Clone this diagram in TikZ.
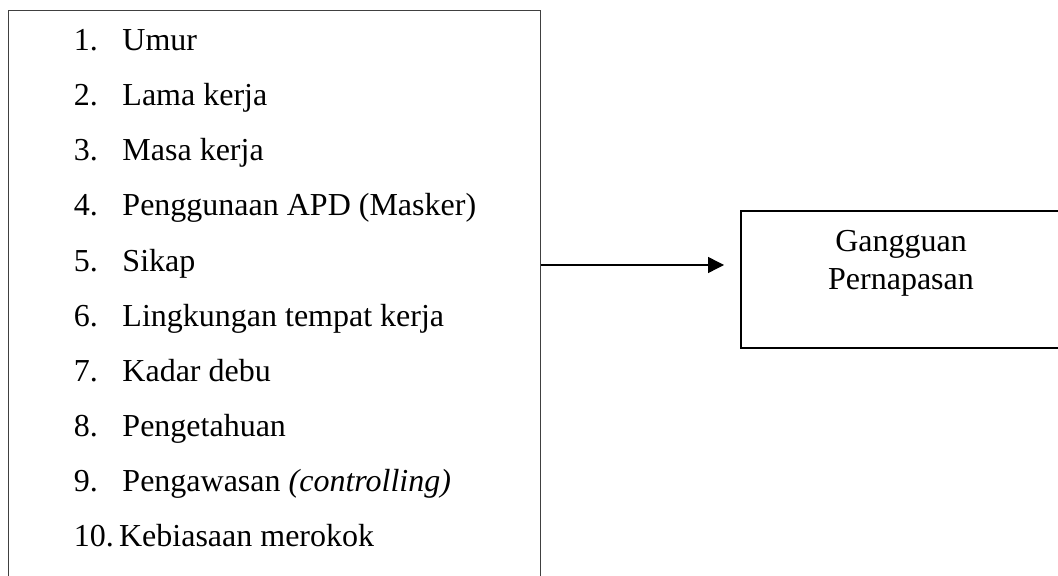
\documentclass[tikz,border=0pt]{standalone}
\usepackage{fontspec}
\setmainfont{Liberation Serif}
\usetikzlibrary{arrows.meta,positioning}

\begin{document}
\begin{tikzpicture}[x=0.5pt,y=-0.5pt,>={Triangle[length=8pt,width=8pt]},
                  box/.style={draw,rectangle,inner sep=0pt},
                  item/.style={anchor=base west,inner sep=0pt,font=\fontsize{16}{19}\selectfont}]

    \useasboundingbox (0,0) rectangle (1058,576);

    \node[box,line width=0.6pt,draw=black!75,minimum width=266pt,minimum height=296pt,anchor=north west] (kiri) at (8,10) {};
    \node[box,line width=1pt,minimum width=163pt,minimum height=68.5pt,anchor=north west] (kanan) at (740,210) {};

    \node[item] (1) at (73.5,50.7) {\makebox[24.3pt][l]{1.}Umur};
    \node[item] (2) at (73.5,105.8) {\makebox[24.3pt][l]{2.}Lama kerja};
    \node[item] (3) at (73.5,160.9) {\makebox[24.3pt][l]{3.}Masa kerja};
    \node[item] (4) at (73.5,216.0) {\makebox[24.3pt][l]{4.}Penggunaan APD (Masker)};
    \node[item] (5) at (73.5,271.1) {\makebox[24.3pt][l]{5.}Sikap};
    \node[item] (6) at (73.5,326.2) {\makebox[24.3pt][l]{6.}Lingkungan tempat kerja};
    \node[item] (7) at (73.5,381.3) {\makebox[24.3pt][l]{7.}Kadar debu};
    \node[item] (8) at (73.5,436.4) {\makebox[24.3pt][l]{8.}Pengetahuan};
    \node[item] (9) at (73.5,491.5) {\makebox[24.3pt][l]{9.}Pengawasan \textit{(controlling)}};
    \node[item] (10) at (73.5,546.7) {\makebox[22.6pt][l]{10.}Kebiasaan merokok};

    \node[align=center,inner sep=0pt,font=\fontsize{16}{19}\selectfont] (judul) at (901,263.5) {Gangguan\\Pernapasan};

    % panah dari daftar faktor ke kotak kanan
    \coordinate (ujung) at (724,265);
    \draw[->,line width=0.7pt] (kiri.east |- ujung) -- (ujung);
  \end{tikzpicture}
\end{document}
